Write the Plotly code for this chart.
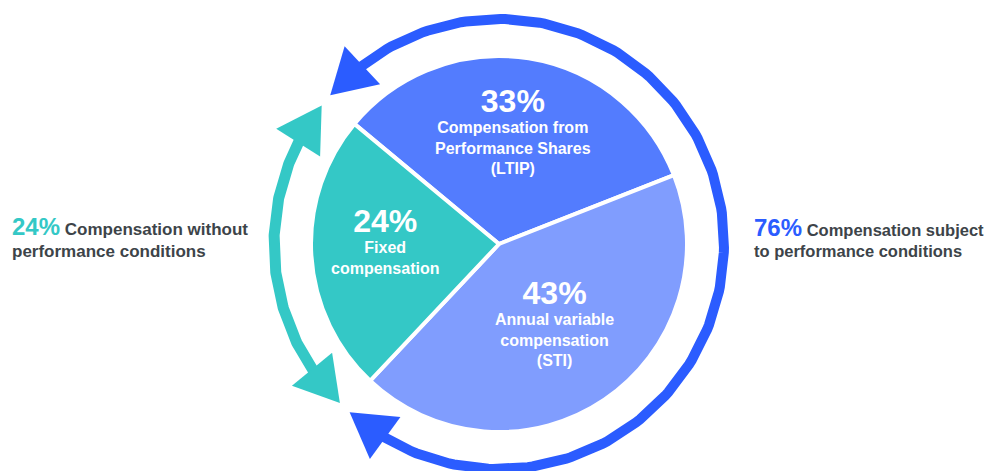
import numpy as np
import plotly.graph_objects as go

# slice data (clockwise order starting at the upper-left boundary)
labels = ['Compensation from<br>Performance Shares<br>(LTIP)',
          'Annual variable<br>compensation<br>(STI)',
          'Fixed<br>compensation']
values = [33, 43, 24]
colors = ['#537CFE', '#809DFE', '#34C8C6']

perf_share = 76      # LTIP + STI
fixed_share = 24

W, H = 999, 471
OFF = 8              # default body margin of the html page
cx, cy, r_pie = 499, 244, 188
rotation = -50.3     # compass degrees where the first slice starts

TEAL = '#34C8C6'
BLUE = '#2B5CFF'
DARK = '#3D4449'
FONT = 'Liberation Sans, Arial, sans-serif'


def pt(phi, R):
    a = np.radians(phi)
    return cx + R * np.sin(a), cy - R * np.cos(a)


def arrow_arc(phi0, phi1, color, width, R=225, head_len=44, head_w=52):
    """double headed arc going clockwise from phi0 to phi1 (compass deg)"""
    dphi = np.degrees(head_len / R)
    traces = []
    tuck = np.degrees(5 / R)
    ang = np.linspace(phi0 + dphi - tuck, phi1 - dphi + tuck, 200)
    xs, ys = pt(ang, R)
    traces.append(go.Scatter(x=xs, y=ys, mode='lines', hoverinfo='skip',
                             line=dict(color=color, width=width), showlegend=False))
    for tip, base in [(phi0, phi0 + dphi), (phi1, phi1 - dphi)]:
        tx, ty = pt(tip, R)
        bx, by = pt(base, R)
        d = np.array([tx - bx, ty - by])
        d /= np.linalg.norm(d)
        n = np.array([-d[1], d[0]])
        hx = [tx, bx + n[0] * head_w / 2, bx - n[0] * head_w / 2, tx]
        hy = [ty, by + n[1] * head_w / 2, by - n[1] * head_w / 2, ty]
        traces.append(go.Scatter(x=hx, y=hy, mode='lines', fill='toself',
                                 fillcolor=color, line=dict(color=color, width=0),
                                 hoverinfo='skip', showlegend=False))
    return traces


gap = 1.7
perf_end = rotation + perf_share / 100 * 360
fixed_end = perf_end + fixed_share / 100 * 360

fig = go.Figure()
for t in arrow_arc(rotation + gap, perf_end - gap, BLUE, 10):
    fig.add_trace(t)
for t in arrow_arc(perf_end + gap, fixed_end - gap, TEAL, 11):
    fig.add_trace(t)

pcx, pcy = cx - OFF, cy - OFF
fig.add_trace(go.Pie(
    values=values, labels=labels, sort=False, direction='clockwise',
    rotation=rotation, textinfo='none', hoverinfo='skip',
    marker=dict(colors=colors, line=dict(color='white', width=4)),
    domain=dict(x=[(pcx - r_pie) / W, (pcx + r_pie) / W],
                y=[1 - (pcy + r_pie) / H, 1 - (pcy - r_pie) / H]),
    showlegend=False))

# slice labels: big percentage on the first line, description below
label_pos = [(513, 81), (554, 273), (385, 201)]
annotations = []
for v, lab, (px, py) in zip(values, labels, label_pos):
    annotations.append(dict(
        x=px, y=py, xref='x', yref='y', yanchor='top', showarrow=False,
        text="<span style='font-size:32px'><b>%d%%</b></span><br><b>%s</b>" % (v, lab),
        font=dict(family=FONT, size=16, color='white')))

annotations.append(dict(
    x=10, y=237, xref='x', yref='y', xanchor='left', align='left', showarrow=False,
    text="<span style='color:%s;font-size:24px'><b>%d%%</b></span>"
         "<b> Compensation without</b><br><b>performance conditions</b>" % (TEAL, fixed_share),
    font=dict(family=FONT, size=17, color=DARK)))
annotations.append(dict(
    x=752, y=237, xref='x', yref='y', xanchor='left', align='left', showarrow=False,
    text="<span style='color:%s;font-size:24px'><b>%d%%</b></span>"
         "<b> Compensation subject</b><br><b>to performance conditions</b>" % (BLUE, perf_share),
    font=dict(family=FONT, size=16.5, color=DARK)))

fig.update_layout(
    width=W, height=H, margin=dict(l=0, r=0, t=0, b=0),
    paper_bgcolor='white', plot_bgcolor='white',
    xaxis=dict(range=[OFF, W + OFF], visible=False, fixedrange=True),
    yaxis=dict(range=[H + OFF, OFF], visible=False, fixedrange=True),
    annotations=annotations,
)

fig.write_html("out.html")
